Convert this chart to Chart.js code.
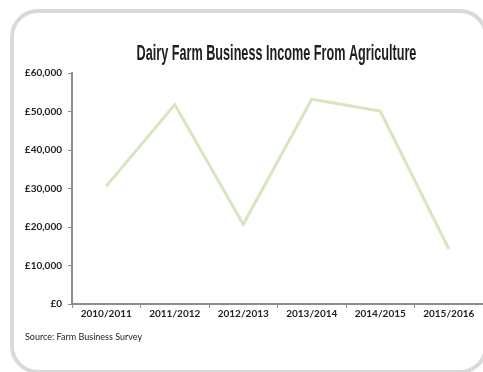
<!DOCTYPE html>
<html>
<head>
<meta charset="utf-8">
<script src="https://cdn.jsdelivr.net/npm/chart.js@4/dist/chart.umd.min.js"></script>
<style>
  html, body { margin: 0; padding: 0; background: #fff; overflow: hidden; }
  #chart { display: block; }
</style>
</head>
<body>
<canvas id="chart" width="483" height="372"></canvas>
<script>
const years = ["2010/2011", "2011/2012", "2012/2013", "2013/2014", "2014/2015", "2015/2016"];
const income = [30600, 51800, 20700, 53200, 50100, 14300];
const yTicks = [0, 10000, 20000, 30000, 40000, 50000, 60000];

const titleText = "Dairy Farm Business Income From Agriculture";
const sourceText = "Source: Farm Business Survey";
const axisGrey = "#8c8c8c";

// rounded grey panel behind the chart; its right and bottom sides run off the canvas
const panel = {
  id: "panel",
  beforeDraw(chart) {
    const ctx = chart.ctx;
    ctx.save();
    ctx.strokeStyle = "#d9d9d9";
    ctx.lineWidth = 4;
    ctx.beginPath();
    ctx.roundRect(12, 11, 474, 361, 26);
    ctx.stroke();
    ctx.restore();
  }
};

// title in a squeezed condensed face, plus the source note under the axis
const annotations = {
  id: "annotations",
  afterDraw(chart) {
    const ctx = chart.ctx;
    const area = chart.chartArea;
    ctx.save();
    ctx.fillStyle = "#1e1e1e";
    ctx.font = "bold 22px 'Liberation Sans Narrow', 'Liberation Sans', sans-serif";
    ctx.textAlign = "center";
    ctx.textBaseline = "middle";
    ctx.translate((area.left + area.right) / 2 - 1, 54);
    ctx.scale(0.575, 1);
    ctx.fillText(titleText, 0, 0);
    ctx.restore();

    ctx.save();
    ctx.fillStyle = "#222";
    ctx.font = "9px Lato, sans-serif";
    ctx.textAlign = "left";
    ctx.textBaseline = "middle";
    ctx.fillText(sourceText, 25, 337);
    ctx.restore();
  }
};

new Chart(document.getElementById("chart"), {
  type: "line",
  data: {
    labels: years,
    datasets: [{
      data: income,
      borderColor: "#d6e6c0",
      borderWidth: 3,
      pointRadius: 0,
      tension: 0,
      fill: false
    }]
  },
  options: {
    responsive: false,
    animation: false,
    layout: { padding: { left: 10, right: 0, top: 73, bottom: 48 } },
    plugins: {
      legend: { display: false },
      title: { display: false },
      tooltip: { enabled: false }
    },
    scales: {
      x: {
        offset: true,
        grid: { offset: true, drawOnChartArea: false, color: axisGrey, tickLength: 4 },
        border: { color: axisGrey, width: 2 },
        ticks: { color: "#222", padding: 0, maxRotation: 0, font: { family: "Lato", size: 10, weight: "bold" } },
        afterFit: s => { s.height = 20; }
      },
      y: {
        min: 0,
        max: 60000,
        afterBuildTicks: s => { s.ticks = yTicks.map(v => ({ value: v })); },
        grid: { drawOnChartArea: false, color: axisGrey, tickLength: 4 },
        border: { color: axisGrey, width: 2 },
        ticks: {
          color: "#222",
          padding: 6,
          font: { family: "Lato", size: 10, weight: "bold" },
          callback: v => "£" + v.toLocaleString("en-GB")
        },
        afterFit: s => { s.width = 62; }
      }
    }
  },
  plugins: [panel, annotations]
});
</script>
</body>
</html>
